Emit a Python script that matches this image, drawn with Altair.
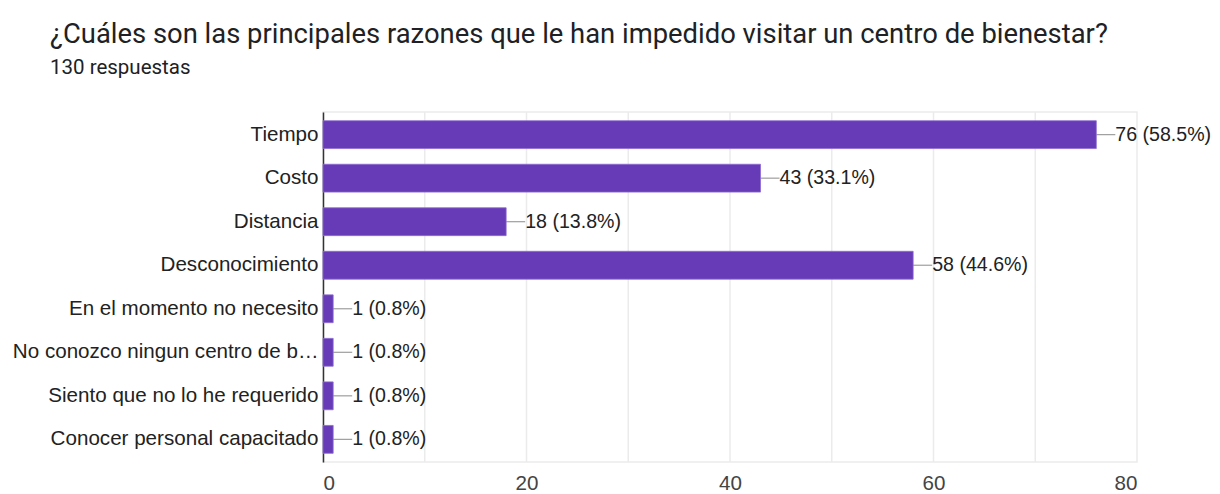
import altair as alt
import pandas as pd

categories = [
    "Tiempo",
    "Costo",
    "Distancia",
    "Desconocimiento",
    "En el momento no necesito",
    "No conozco ningun centro de bienestar",
    "Siento que no lo he requerido",
    "Conocer personal capacitado",
]
counts = [76, 43, 18, 58, 1, 1, 1, 1]
percents = ["58.5%", "33.1%", "13.8%", "44.6%", "0.8%", "0.8%", "0.8%", "0.8%"]
x_ticks = [0, 20, 40, 60, 80]

df = pd.DataFrame({
    "cat": categories,
    "n": counts,
    "label": [f"{c} ({p})" for c, p in zip(counts, percents)],
})

FONT = "Roboto"
LFONT = "Liberation Sans"
LSIZE = 20.6

y_enc = alt.Y(
    "cat:N",
    sort=categories,
    title=None,
    scale=alt.Scale(paddingInner=0.36, paddingOuter=0.2),
    axis=alt.Axis(
        domain=True, domainColor="#333333", domainWidth=1.5, ticks=False,
        labelPadding=5, labelFontSize=LSIZE, labelColor="#222222", labelFont=LFONT,
        labelLimit=306, grid=False,
    ),
)
x_enc = alt.X(
    "n:Q",
    title=None,
    scale=alt.Scale(domain=[0, 80], nice=False),
    axis=alt.Axis(
        values=x_ticks, domain=False, ticks=False, grid=False,
        labelPadding=11, labelFontSize=LSIZE, labelColor="#444444", labelFont=LFONT,
    ),
)

grid = alt.Chart(pd.DataFrame({"g": [10, 20, 30, 40, 50, 60, 70]})).mark_rule(
    color="#ebebeb", strokeWidth=1.5
).encode(x=alt.X("g:Q", scale=alt.Scale(domain=[0, 80], nice=False)))

bars = alt.Chart(df).mark_bar(color="#673AB7", stroke="#8e6cd0", strokeWidth=0.8).encode(
    x=x_enc, y=y_enc
)

leader = alt.Chart(df).mark_rule(color="#9e9e9e", strokeWidth=1.2, x2Offset=19).encode(
    x="n:Q", x2="n:Q", y=alt.Y("cat:N", sort=categories)
)

text = alt.Chart(df).mark_text(
    align="left", baseline="middle", dx=19, fontSize=19.6, font=LFONT, color="#222222"
).encode(x="n:Q", y=alt.Y("cat:N", sort=categories), text="label:N")

chart = alt.layer(grid, leader, bars, text).properties(
    width=814,
    height=350,
    title=alt.TitleParams(
        text="¿Cuáles son las principales razones que le han impedido visitar un centro de bienestar?",
        subtitle="130 respuestas",
        anchor="start",
        frame="group",
        dx=-273,
        offset=33,
        font=FONT,
        fontSize=27.4,
        fontWeight="normal",
        color="#202124",
        subtitleFont=FONT,
        subtitleFontSize=20.5,
        subtitleColor="#202124",
        subtitlePadding=9,
    ),
    autosize=alt.AutoSizeParams(type="none"),
    padding={"left": 315, "top": 104, "right": 75, "bottom": 30},
).configure_view(stroke="#ebebeb", strokeWidth=1.5)

chart.save("out.html", embed_options={"renderer": "svg", "actions": False})
